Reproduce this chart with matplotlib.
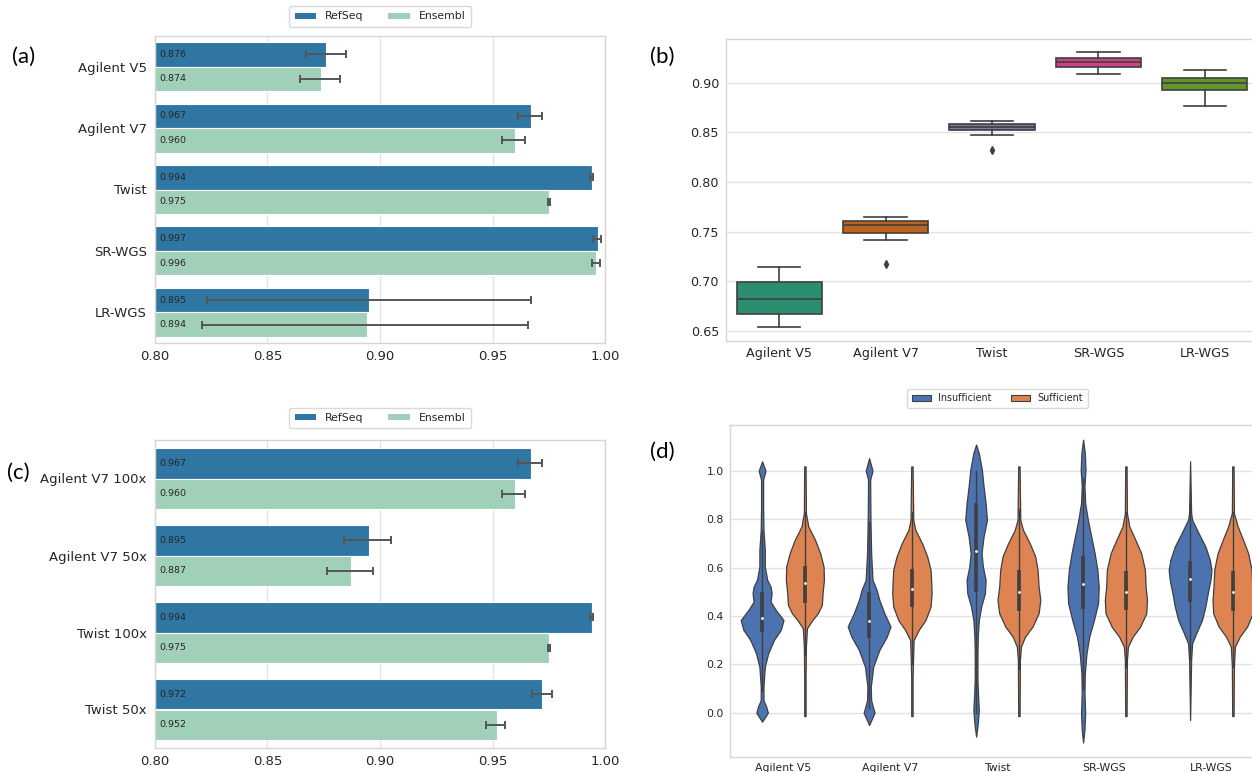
import colorsys
import numpy as np
import matplotlib
matplotlib.use("Agg")
import matplotlib.pyplot as plt
import matplotlib.colors as mcolors
from matplotlib.patches import Patch

# ---- (a) coverage per platform, RefSeq vs Ensembl ----
a_cats = ["Agilent V5", "Agilent V7", "Twist", "SR-WGS", "LR-WGS"]
a_refseq = [0.876, 0.967, 0.994, 0.997, 0.895]
a_ensembl = [0.874, 0.960, 0.975, 0.996, 0.894]
a_refseq_lo = [0.8670, 0.9612, 0.9935, 0.9945, 0.8229]
a_refseq_hi = [0.8851, 0.9719, 0.9945, 0.9982, 0.9671]
a_ensembl_lo = [0.8645, 0.9540, 0.9745, 0.9941, 0.8208]
a_ensembl_hi = [0.8823, 0.9646, 0.9755, 0.9977, 0.9659]

# ---- (c) depth comparison ----
c_cats = ["Agilent V7 100x", "Agilent V7 50x", "Twist 100x", "Twist 50x"]
c_refseq = [0.967, 0.895, 0.994, 0.972]
c_ensembl = [0.960, 0.887, 0.975, 0.952]
c_refseq_lo = [0.9612, 0.8839, 0.9935, 0.9676]
c_refseq_hi = [0.9719, 0.9049, 0.9945, 0.9764]
c_ensembl_lo = [0.9540, 0.8764, 0.9745, 0.9470]
c_ensembl_hi = [0.9646, 0.8971, 0.9755, 0.9556]

# ---- (b) box stats ----
b_cats = ["Agilent V5", "Agilent V7", "Twist", "SR-WGS", "LR-WGS"]
b_whislo = [0.6537, 0.7419, 0.8475, 0.9084, 0.8764]
b_q1 = [0.667, 0.7489, 0.8526, 0.9162, 0.8926]
b_med = [0.682, 0.7563, 0.8556, 0.9212, 0.900]
b_q3 = [0.699, 0.7604, 0.8583, 0.9252, 0.9044]
b_whishi = [0.7146, 0.7644, 0.8616, 0.931, 0.9131]
b_fliers = [[], [0.7173], [0.8324], [], []]
b_colors = ["#1b9e77", "#d95f02", "#7570b3", "#e7298a", "#66a61e"]

# ---- (d) violin outlines (value, relative density) per platform ----
d_cats = ["Agilent V5", "Agilent V7", "Twist", "SR-WGS", "LR-WGS"]
ins_y = [
    [1.039, 1.0, 0.963, 0.85, 0.756, 0.673, 0.604, 0.549, 0.521, 0.494, 0.459, 0.425, 0.383, 0.342, 0.301, 0.246, 0.19, 0.108, 0.052, 0.025, 0.0, -0.037],
    [1.052, 1.0, 0.963, 0.797, 0.659, 0.549, 0.508, 0.466, 0.411, 0.356, 0.314, 0.259, 0.19, 0.108, 0.052, 0.035, 0.0, -0.051],
    [1.108, 1.073, 1.004, 0.935, 0.866, 0.797, 0.728, 0.659, 0.604, 0.549, 0.494, 0.439, 0.383, 0.314, 0.246, 0.135, 0.066, 0.011, -0.044, -0.099],
    [1.128, 1.073, 1.004, 0.935, 0.866, 0.797, 0.728, 0.659, 0.59, 0.521, 0.452, 0.383, 0.314, 0.246, 0.163, 0.08, 0.0, -0.07, -0.123],
    [1.039, 0.825, 0.797, 0.742, 0.687, 0.632, 0.59, 0.549, 0.494, 0.439, 0.383, 0.328, 0.287, 0.218, -0.03],
]
ins_w = [
    [0, 10, 3, 3, 4, 8, 8, 15, 25, 28, 25, 40, 63, 55, 35, 18, 8, 4, 4, 12, 17, 0],
    [0, 10, 3, 4, 6, 10, 22, 30, 45, 63, 52, 30, 12, 5, 6, 9, 16, 0],
    [0, 8, 17, 22, 28, 32, 22, 16, 20, 28, 26, 15, 8, 5, 4, 4, 6, 8, 5, 0],
    [0, 5, 7, 4, 6, 14, 24, 34, 42, 46, 44, 32, 18, 10, 5, 4, 6, 4, 0],
    [0, 3, 6, 25, 45, 58, 63, 60, 52, 45, 35, 18, 6, 3, 0],
]
suf_y = [
    [1.018, 0.825, 0.77, 0.714, 0.659, 0.604, 0.549, 0.494, 0.446, 0.411, 0.383, 0.349, 0.273, 0.15, -0.014],
    [1.018, 0.797, 0.756, 0.70, 0.646, 0.59, 0.535, 0.494, 0.439, 0.383, 0.342, 0.30, 0.15, -0.014],
    [1.018, 0.797, 0.756, 0.70, 0.646, 0.59, 0.521, 0.466, 0.411, 0.356, 0.314, 0.273, 0.218, -0.014],
    [1.018, 0.825, 0.77, 0.714, 0.659, 0.59, 0.521, 0.466, 0.411, 0.356, 0.314, 0.273, 0.218, -0.014],
    [1.018, 0.825, 0.77, 0.714, 0.659, 0.59, 0.521, 0.466, 0.411, 0.356, 0.314, 0.273, 0.19, -0.014],
]
suf_w = [
    [2, 3, 10, 30, 45, 55, 56, 52, 50, 38, 22, 6, 3, 2, 2],
    [2, 4, 10, 30, 45, 55, 57, 58, 55, 40, 20, 5, 2, 2],
    [2, 4, 12, 32, 48, 55, 58, 63, 58, 40, 18, 6, 3, 2],
    [2, 3, 10, 28, 45, 56, 58, 62, 60, 42, 20, 6, 3, 2],
    [2, 3, 14, 30, 45, 55, 57, 60, 58, 42, 20, 6, 3, 2],
]
# inner box: q1, median, q3, whisker low/high
ins_q1 = [0.335, 0.308, 0.50, 0.428, 0.459]
ins_med = [0.39, 0.377, 0.669, 0.531, 0.552]
ins_q3 = [0.50, 0.50, 0.866, 0.648, 0.625]
ins_lo = [0.09, 0.02, 0.0, 0.10, 0.22]
ins_hi = [0.75, 0.79, 1.0, 0.97, 0.87]
suf_q1 = [0.455, 0.436, 0.422, 0.425, 0.422]
suf_med = [0.535, 0.512, 0.50, 0.50, 0.50]
suf_q3 = [0.608, 0.594, 0.59, 0.587, 0.587]
suf_lo = [0.24, 0.20, 0.18, 0.19, 0.19]
suf_hi = [0.83, 0.83, 0.84, 0.83, 0.83]

REFSEQ_C = "#2f76a3"
ENSEMBL_C = "#a0d0b7"
INS_C = "#4c72b0"
SUF_C = "#dd8452"
GRID_C = "#e3e3e3"
TEXT_C = "#262626"
LINE_C = "#3f3f3f"


def desaturate(color, prop=0.75):
    r, g, b = mcolors.to_rgb(color)
    h, l, s = colorsys.rgb_to_hls(r, g, b)
    return colorsys.hls_to_rgb(h, l, s * prop)


plt.rcParams["font.family"] = "DejaVu Sans"
plt.rcParams["axes.edgecolor"] = "#d6d6d6"
plt.rcParams["axes.linewidth"] = 1.0
plt.rcParams["text.color"] = TEXT_C
plt.rcParams["xtick.color"] = TEXT_C
plt.rcParams["ytick.color"] = TEXT_C

W, H = 1252, 772
fig = plt.figure(figsize=(W / 100, H / 100), dpi=100)


def px_axes(left, top, right, bottom):
    return fig.add_axes([left / W, 1 - bottom / H, (right - left) / W, (bottom - top) / H])


def style(ax, grid_axis):
    ax.set_axisbelow(True)
    ax.grid(True, axis=grid_axis, color=GRID_C, lw=1.0)
    ax.grid(False, axis="x" if grid_axis == "y" else "y")
    ax.tick_params(length=0)


def bar_panel(ax, cats, ref, ens, ref_lo, ref_hi, ens_lo, ens_hi, legend_gap):
    pos = np.arange(len(cats))
    for off, vals, lo, hi, col in [(-0.2, ref, ref_lo, ref_hi, REFSEQ_C),
                                   (0.2, ens, ens_lo, ens_hi, ENSEMBL_C)]:
        vals = np.array(vals)
        ax.barh(pos + off, vals - 0.8, left=0.8, height=0.4, color=col,
                edgecolor="white", linewidth=0.8)
        err = [vals - np.array(lo), np.array(hi) - vals]
        ax.errorbar(vals, pos + off, xerr=err, fmt="none", ecolor="#555555",
                    elinewidth=1.4, capsize=3, capthick=1.4)
        for p, v in zip(pos + off, vals):
            ax.text(0.8018, p, f"{v:.3f}", fontsize=6.8, va="center", ha="left", color=TEXT_C)
    ax.set_xlim(0.8, 1.0)
    ax.set_ylim(len(cats) - 0.5, -0.5)
    ax.set_yticks(pos)
    ax.set_yticklabels(cats, fontsize=9.5)
    ax.set_xticks([0.80, 0.85, 0.90, 0.95, 1.00])
    ax.set_xticklabels(["0.80", "0.85", "0.90", "0.95", "1.00"], fontsize=9.5)
    style(ax, "x")
    ax.tick_params(axis="y", pad=6)
    ax.tick_params(axis="x", pad=5)
    handles = [Patch(facecolor=REFSEQ_C, label="RefSeq"),
               Patch(facecolor=ENSEMBL_C, label="Ensembl")]
    ax.legend(handles=handles, loc="lower center", bbox_to_anchor=(0.5, 1 + legend_gap),
              ncol=2, fontsize=7.8, frameon=True, edgecolor="#d0d0d0",
              handlelength=2.0, handleheight=0.5, columnspacing=2.3, borderpad=0.5)


# (a)
ax_a = px_axes(155, 36, 605, 343)
bar_panel(ax_a, a_cats, a_refseq, a_ensembl, a_refseq_lo, a_refseq_hi,
          a_ensembl_lo, a_ensembl_hi, 0.012)

# (c)
ax_c = px_axes(155, 440, 605, 748)
bar_panel(ax_c, c_cats, c_refseq, c_ensembl, c_refseq_lo, c_refseq_hi,
          c_ensembl_lo, c_ensembl_hi, 0.02)

# (b) boxplot
ax_b = px_axes(726, 39, 1258, 341)
stats = []
for i in range(len(b_cats)):
    stats.append(dict(whislo=b_whislo[i], q1=b_q1[i], med=b_med[i], q3=b_q3[i],
                      whishi=b_whishi[i], fliers=b_fliers[i]))
bp = ax_b.bxp(stats, positions=range(len(b_cats)), widths=0.8, patch_artist=True,
              boxprops=dict(edgecolor=LINE_C, linewidth=1.2),
              medianprops=dict(color=LINE_C, linewidth=1.2),
              whiskerprops=dict(color=LINE_C, linewidth=1.2),
              capprops=dict(color=LINE_C, linewidth=1.2),
              flierprops=dict(marker="d", markersize=4, markerfacecolor=LINE_C,
                              markeredgecolor=LINE_C))
for patch, col in zip(bp["boxes"], b_colors):
    patch.set_facecolor(desaturate(col))
ax_b.set_xlim(-0.5, len(b_cats) - 0.5)
ax_b.set_ylim(0.640, 0.944)
ax_b.set_yticks([0.65, 0.70, 0.75, 0.80, 0.85, 0.90])
ax_b.set_yticklabels(["0.65", "0.70", "0.75", "0.80", "0.85", "0.90"], fontsize=9.2)
ax_b.set_xticks(range(len(b_cats)))
ax_b.set_xticklabels(b_cats, fontsize=9.2)
style(ax_b, "y")
ax_b.tick_params(axis="y", pad=5)
ax_b.tick_params(axis="x", pad=4.5)

# (d) violins
ax_d = px_axes(730, 425, 1265, 757)
wmax = max(max(w) for w in ins_w + suf_w)
for i in range(len(d_cats)):
    for off, ys, ws, q1, med, q3, lo, hi, col in [
        (-0.2, ins_y[i], ins_w[i], ins_q1[i], ins_med[i], ins_q3[i], ins_lo[i], ins_hi[i], INS_C),
        (0.2, suf_y[i], suf_w[i], suf_q1[i], suf_med[i], suf_q3[i], suf_lo[i], suf_hi[i], SUF_C),
    ]:
        x = i + off
        hw = np.array(ws) / wmax * 0.2
        ys = np.array(ys)
        ax_d.fill_betweenx(ys, x - hw, x + hw, facecolor=col, edgecolor=LINE_C,
                           linewidth=0.9, zorder=2)
        ax_d.plot([x, x], [lo, hi], color=LINE_C, lw=1.0, zorder=3)
        ax_d.plot([x, x], [q1, q3], color=LINE_C, lw=2.6, solid_capstyle="butt", zorder=3)
        ax_d.scatter([x], [med], s=4, color="white", zorder=4, linewidths=0)
ax_d.set_xlim(-0.5, len(d_cats) - 0.5)
ax_d.set_ylim(-0.183, 1.189)
ax_d.set_yticks([0.0, 0.2, 0.4, 0.6, 0.8, 1.0])
ax_d.set_yticklabels(["0.0", "0.2", "0.4", "0.6", "0.8", "1.0"], fontsize=7.8)
ax_d.set_xticks(range(len(d_cats)))
ax_d.set_xticklabels(d_cats, fontsize=7.8)
style(ax_d, "y")
ax_d.tick_params(axis="y", pad=4.5)
ax_d.tick_params(axis="x", pad=4)
d_handles = [Patch(facecolor=INS_C, edgecolor=LINE_C, linewidth=0.8, label="Insufficient"),
             Patch(facecolor=SUF_C, edgecolor=LINE_C, linewidth=0.8, label="Sufficient")]
ax_d.legend(handles=d_handles, loc="lower center", bbox_to_anchor=(0.5, 1.036), ncol=2,
            fontsize=6.9, frameon=True, edgecolor="#d0d0d0", handlelength=2.0,
            handleheight=0.7, columnspacing=2.0, borderpad=0.5)

# panel letters
for txt, x, y in [("(a)", 24, 57), ("(b)", 662, 57), ("(c)", 18, 473), ("(d)", 662, 452)]:
    fig.text(x / W, 1 - y / H, txt, fontsize=16, ha="center", va="center",
             family=["Lato", "DejaVu Sans"], color="black")

fig.savefig("out.png", dpi=100)
